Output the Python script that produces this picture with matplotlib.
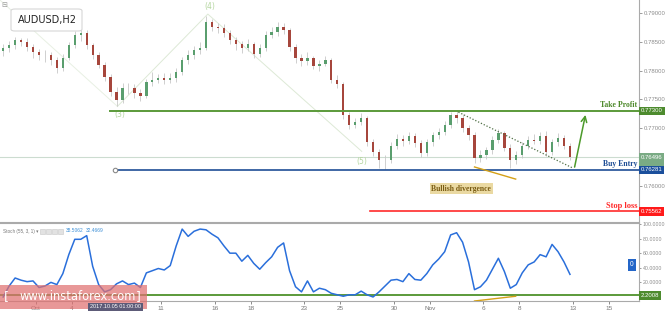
import numpy as np
import matplotlib
matplotlib.use('Agg')
import matplotlib.pyplot as plt
from matplotlib.patches import Rectangle, FancyBboxPatch

# ---------------------------------------------------------------
# data (thinned to 3 candles a day)
# ---------------------------------------------------------------
first_open = 0.7834
close = [0.7839, 0.7844, 0.7853, 0.7850, 0.7841, 0.7832, 0.7827, 0.7827, 0.7818, 0.7805,
         0.7822, 0.7844, 0.7862, 0.7865, 0.7844, 0.7827, 0.7810, 0.7789, 0.7763, 0.7749,
         0.7770, 0.7770, 0.7761, 0.7756, 0.7780, 0.7784, 0.7787, 0.7784, 0.7787, 0.7798,
         0.7818, 0.7827, 0.7836, 0.7839, 0.7884, 0.7876, 0.7874, 0.7865, 0.7853, 0.7846,
         0.7839, 0.7846, 0.7829, 0.7839, 0.7862, 0.7867, 0.7876, 0.7870, 0.7841, 0.7822,
         0.7817, 0.7822, 0.7808, 0.7812, 0.7818, 0.7784, 0.7777, 0.7723, 0.7706, 0.7711,
         0.7718, 0.7676, 0.7659, 0.7645, 0.7645, 0.7669, 0.7682, 0.7678, 0.7687, 0.7675,
         0.7657, 0.7676, 0.7688, 0.7694, 0.7706, 0.7723, 0.7718, 0.7701, 0.7688, 0.7649,
         0.7654, 0.7662, 0.7680, 0.7692, 0.7666, 0.7645, 0.7654, 0.7669, 0.7680, 0.7678,
         0.7687, 0.7659, 0.7676, 0.7683, 0.7669, 0.7650]
high = [0.7846, 0.7851, 0.7858, 0.7857, 0.7856, 0.7846, 0.7838, 0.7835, 0.7833, 0.7824,
        0.7828, 0.7850, 0.7868, 0.7874, 0.7870, 0.7848, 0.7832, 0.7815, 0.7794, 0.7772,
        0.7778, 0.7779, 0.7776, 0.7768, 0.7786, 0.7797, 0.7794, 0.7795, 0.7796, 0.7804,
        0.7824, 0.7835, 0.7842, 0.7850, 0.7894, 0.7890, 0.7882, 0.7880, 0.7870, 0.7858,
        0.7852, 0.7855, 0.7850, 0.7846, 0.7868, 0.7876, 0.7884, 0.7882, 0.7874, 0.7846,
        0.7828, 0.7832, 0.7826, 0.7818, 0.7826, 0.7822, 0.7792, 0.7780, 0.7728, 0.7718,
        0.7726, 0.7722, 0.7682, 0.7664, 0.7654, 0.7676, 0.7690, 0.7688, 0.7694, 0.7692,
        0.7680, 0.7682, 0.7694, 0.7700, 0.7712, 0.7728, 0.7732, 0.7724, 0.7706, 0.7694,
        0.7662, 0.7668, 0.7686, 0.7698, 0.7696, 0.7672, 0.7660, 0.7676, 0.7686, 0.7690,
        0.7694, 0.7696, 0.7682, 0.7692, 0.7688, 0.7674]
low = [0.7826, 0.7833, 0.7838, 0.7842, 0.7834, 0.7822, 0.7818, 0.7815, 0.7810, 0.7795,
       0.7800, 0.7818, 0.7840, 0.7852, 0.7838, 0.7820, 0.7804, 0.7782, 0.7756, 0.7738,
       0.7744, 0.7760, 0.7752, 0.7748, 0.7752, 0.7774, 0.7778, 0.7776, 0.7778, 0.7780,
       0.7792, 0.7812, 0.7820, 0.7828, 0.7835, 0.7868, 0.7866, 0.7858, 0.7846, 0.7836,
       0.7830, 0.7834, 0.7822, 0.7824, 0.7834, 0.7856, 0.7860, 0.7864, 0.7834, 0.7814,
       0.7808, 0.7810, 0.7802, 0.7800, 0.7808, 0.7778, 0.7770, 0.7716, 0.7698, 0.7700,
       0.7706, 0.7670, 0.7652, 0.7632, 0.7630, 0.7640, 0.7664, 0.7670, 0.7672, 0.7668,
       0.7650, 0.7652, 0.7670, 0.7682, 0.7688, 0.7700, 0.7710, 0.7694, 0.7680, 0.7640,
       0.7642, 0.7646, 0.7656, 0.7674, 0.7660, 0.7631, 0.7638, 0.7648, 0.7664, 0.7672,
       0.7672, 0.7652, 0.7654, 0.7670, 0.7664, 0.7645]

stoch = [0, 15, 26, 23, 21, 22, 13, 15, 20, 17,
         32, 58, 79, 79, 84, 42, 17, 7, 10, 18,
         22, 17, 19, 13, 33, 36, 39, 37, 43, 70,
         93, 83, 90, 93, 92, 86, 81, 70, 60, 60,
         49, 57, 46, 38, 47, 55, 68, 74, 36, 14,
         7, 22, 7, 12, 10, 5, 3, 1, 3, 3,
         8, 3, 0, 7, 15, 23, 24, 21, 32, 24,
         23, 32, 44, 52, 62, 85, 88, 75, 48, 10,
         14, 23, 38, 53, 35, 12, 17, 33, 44, 48,
         58, 55, 72, 62, 48, 31]

# trading days counted from Mon 2 Oct
tick_days = [0, 2, 7, 10, 12, 15, 17, 20, 22, 25, 27, 30, 32]
tick_labels = ['Oct', '4', '11', '16', '18', '23', '25', '30', 'Nov', '6', '8', '13', '15']
price_ticks = [0.760, 0.770, 0.775, 0.780, 0.785, 0.790]
stoch_ticks = [20, 40, 60, 80, 100]

take_profit = 0.77300
buy_entry = 0.76281
stop_loss = 0.75562
last_price = 0.76496
hidden_price = 0.76375
stoch_level = 2.2008

wave_days = [4.55, 9.6, 18.2]
wave_prices = [0.7738, 0.7898, 0.7660]
wave_names = ['(3)', '(4)', '(5)']

channel_days = [23.6, 30.0]
channel_prices = [0.7728, 0.7631]
div_days = [24.5, 26.8]
div_prices = [0.7633, 0.7612]
div_stoch = [-5.5, 1.0]

GREEN = '#5b9a3a'
BLUE = '#1f4e96'
RED = '#ff2a2a'
UP = '#5a9e6e'
DOWN = '#a6463c'
GREY = '#8c8c8c'
NUM_FONT = ['Liberation Sans', 'DejaVu Sans']
SERIF = 'Liberation Serif'

W, H = 665, 311
fig = plt.figure(figsize=(W / 100, H / 100), dpi=100)
ax = fig.add_axes([0, 1 - 222 / H, 639 / W, 222 / H])
ax_st = fig.add_axes([0, 10 / H, 639 / W, 78.5 / H], sharex=ax)

close = np.array(close)
high = np.array(high)
low = np.array(low)
n = len(close)
days = -2 + (np.arange(n) + 0.5) / 3
opens = np.r_[first_open, close[:-1]]
up = close >= opens

# --- candles
ax.vlines(days, low, high, color='#c8c8c8', lw=0.6, zorder=2)
body = np.maximum(np.abs(close - opens), 0.00005)
ax.bar(days, body, bottom=np.minimum(close, opens), width=0.13,
       color=np.where(up, UP, DOWN), zorder=3, linewidth=0)

# --- wave count
wave_col = '#b5d6a0'
ax.plot([-2.0, wave_days[0]], [0.7922, wave_prices[0]], color='#e8f0e3', lw=0.7, zorder=1)
ax.plot(wave_days, wave_prices, color='#dde9d6', lw=0.7, zorder=1)
ax.text(wave_days[0] + 0.15, wave_prices[0] - 0.0006, wave_names[0], color=wave_col,
        fontsize=5.5, ha='center', va='top')
ax.text(wave_days[1] + 0.1, wave_prices[1] + 0.0005, wave_names[1], color=wave_col,
        fontsize=5.5, ha='center', va='bottom')
ax.text(wave_days[2], wave_prices[2] - 0.0010, wave_names[2], color=wave_col,
        fontsize=5.5, ha='center', va='top')

# --- levels
x_right = 33.69
ax.axhline(last_price, color='#ccdcd0', lw=0.8, zorder=1)
ax.plot([4.13, x_right], [take_profit, take_profit], color=GREEN, lw=1.4, zorder=4)
ax.plot([4.41, x_right], [buy_entry, buy_entry], color=BLUE, lw=1.2, zorder=4)
ax.plot([4.41], [buy_entry], marker='o', ms=3.2, mfc='white', mec='#888888', mew=0.8, zorder=5)
ax.plot([18.66, x_right], [stop_loss, stop_loss], color=RED, lw=1.2, zorder=4)

ax.text(33.6, take_profit + 0.0003, 'Take Profit', color='#4f8a2c', fontsize=5.6,
        fontweight='bold', family=SERIF, ha='right', va='bottom')
ax.text(33.6, buy_entry + 0.0003, 'Buy Entry', color=BLUE, fontsize=5.6,
        fontweight='bold', family=SERIF, ha='right', va='bottom')
ax.text(33.6, stop_loss + 0.0003, 'Stop loss', color=RED, fontsize=6.0,
        fontweight='bold', family=SERIF, ha='right', va='bottom')

ax.plot(channel_days, channel_prices, color='#4f6f45', lw=0.9, ls=(0, (1, 1.5)), zorder=4)
ax.annotate('', xy=(30.73, take_profit - 0.0002), xytext=(30.06, buy_entry),
            arrowprops=dict(arrowstyle='->', color='#4c9a2a', lw=1.1), zorder=5)
ax.plot(div_days, div_prices, color='#d4a017', lw=1.0, zorder=4)
ax.text(23.75, 0.7595, 'Bullish divergence', color='#7a5c12', fontsize=5.5,
        fontweight='bold', family=SERIF, ha='center', va='center',
        bbox=dict(boxstyle='square,pad=0.2', fc='#ead9a2', ec='none'))

# --- price axis
ax.set_xlim(-2.011, 33.69)
ax.set_ylim(0.753763, 0.792237)
ax.yaxis.tick_right()
ax.set_yticks(price_ticks)
ax.set_yticklabels(['%.5f' % v for v in price_ticks], family=NUM_FONT)
ax.tick_params(axis='y', labelsize=4.3, colors=GREY, length=2, width=0.6, pad=1.5)
ax.tick_params(axis='x', bottom=False, labelbottom=False)
for side in ['top', 'left']:
    ax.spines[side].set_visible(False)
for side in ['right', 'bottom']:
    ax.spines[side].set_color('#aaaaaa')
    ax.spines[side].set_linewidth(0.8)


def price_box(axis, y, text, fc):
    axis.text(1.003, y, text, transform=axis.get_yaxis_transform(), fontsize=4.3,
              family=NUM_FONT, color='white', ha='left', va='center', clip_on=False,
              zorder=10, bbox=dict(boxstyle='square,pad=0.3', fc=fc, ec='none'))


# partly hidden marker box behind the buy entry label
tr = ax.get_yaxis_transform()
ax.add_patch(Rectangle((1.0, hidden_price - 0.0008), 25 / 639, 0.0016, transform=tr,
                       fc='#7aab84', ec='none', clip_on=False, zorder=9))
price_box(ax, take_profit, '0.77300', '#4d8b2e')
price_box(ax, last_price, '0.76496', '#7aab84')
price_box(ax, buy_entry, '0.76281', '#1b4f9c')
price_box(ax, stop_loss, '0.75562', '#ff1a1a')

# --- stochastic panel
ax_st.plot(days, stoch, color='#2a6fdb', lw=1.1, zorder=3)
ax_st.axhline(stoch_level, color=GREEN, lw=1.4, zorder=2)
ax_st.plot(div_days, div_stoch, color='#d4a017', lw=1.0, zorder=4)
ax_st.set_ylim(-5.5, 102)
ax_st.yaxis.tick_right()
ax_st.set_yticks(stoch_ticks)
ax_st.set_yticklabels(['%.4f' % v for v in stoch_ticks], family=NUM_FONT)
ax_st.tick_params(axis='y', labelsize=3.8, colors=GREY, length=1.5, width=0.6, pad=1.0)
ax_st.set_xticks(tick_days)
ax_st.set_xticklabels(tick_labels, family=NUM_FONT)
ax_st.tick_params(axis='x', labelsize=4.6, colors='#777777', length=2, width=0.6, pad=1.5)
ax_st.spines['left'].set_visible(False)
for side in ['right', 'bottom', 'top']:
    ax_st.spines[side].set_color('#aaaaaa')
    ax_st.spines[side].set_linewidth(0.8)
price_box(ax_st, stoch_level, '2.2008', '#4d8b2e')
ax_st.text(33.3, 43.8, '0', fontsize=4.8, family=NUM_FONT, color='white', ha='center',
           va='center', bbox=dict(boxstyle='square,pad=0.35', fc='#2466c8', ec='none'))

fig.text(3 / W, 1 - 231 / H, 'Stoch (55, 3, 1) \u25be', fontsize=3.3, family=NUM_FONT,
         color='#777777', va='center')
for k in range(4):
    fig.add_artist(Rectangle(((40 + k * 6) / W, 1 - 233.5 / H), 4.5 / W, 4.5 / H,
                             transform=fig.transFigure, fc='#e2e2e2', ec='#c8c8c8', lw=0.4))
fig.text(66 / W, 1 - 231 / H, '38.5062', fontsize=3.5, family=NUM_FONT, color='#3d8fd6',
         va='center')
fig.text(86 / W, 1 - 231 / H, '32.4669', fontsize=3.5, family=NUM_FONT, color='#3d8fd6',
         va='center')

# --- title box
fig.text(1 / W, 1 - 5 / H, '\u229f', fontsize=5, color='#9a9a9a', va='center')
fig.add_artist(FancyBboxPatch((11 / W, 1 - 31 / H), 71 / W, 22 / H,
                              boxstyle='round,pad=0,rounding_size=0.006',
                              transform=fig.transFigure, fc='white', ec='#d6d6d6', lw=0.8))
fig.text(18 / W, 1 - 20 / H, 'AUDUSD,H2', fontsize=7, color='#222222', va='center')

# --- crosshair date and watermark
fig.text(115.5 / W, 1 - 307 / H, '2017.10.05 01:00:00', fontsize=4.0, family=NUM_FONT,
         color='white', ha='center', va='center',
         bbox=dict(boxstyle='square,pad=0.3', fc='#5d5b78', ec='none'))
fig.add_artist(Rectangle((0, 2 / H), 147 / W, 24 / H, transform=fig.transFigure,
                         fc='#e07070', ec='none', alpha=0.72))
fig.text(4 / W, 1 - 297 / H, '[', fontsize=9, color='white', va='center')
fig.text(20 / W, 1 - 297 / H, 'www.instaforex.com', fontsize=8.3, color='white', va='center')
fig.text(136 / W, 1 - 297 / H, ']', fontsize=9, color='white', va='center')

fig.savefig('out.png', dpi=100)
